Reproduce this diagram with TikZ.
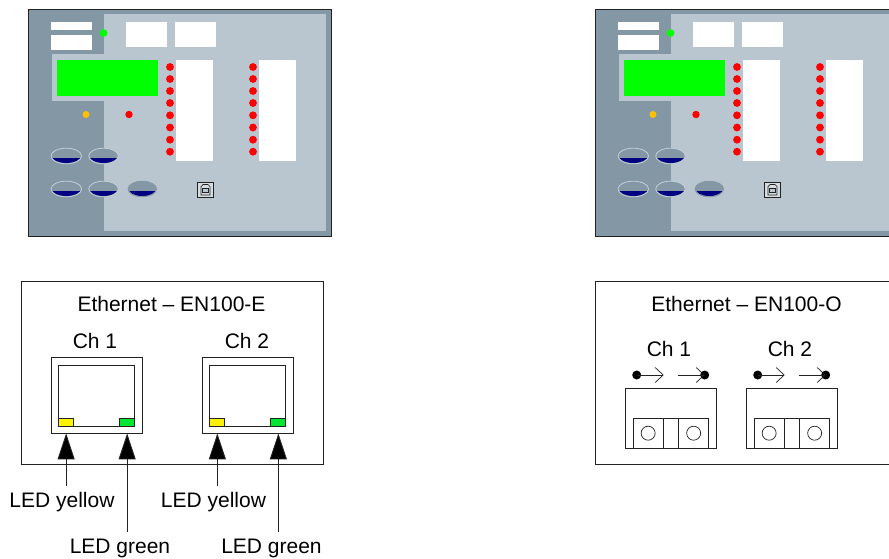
\documentclass[tikz,border=0pt]{standalone}
\usepackage{fontspec}
\setmainfont{Liberation Sans}
\usetikzlibrary{arrows.meta,calc}
\definecolor{paneldark}{HTML}{8497A5}
\definecolor{panellight}{HTML}{B9C6CF}
\definecolor{btnedge}{HTML}{C3CFD7}
\definecolor{btnblue}{HTML}{000080}
\definecolor{amber}{HTML}{FFC000}
\definecolor{ledgreen}{HTML}{00E632}
\definecolor{ink}{HTML}{222222}
\tikzset{
  whitepanel/.style={fill=white,draw=none},
  reddot/.style={fill=red,draw=none},
  boxline/.style={draw=ink,line width=0.9pt,fill=white},
  caption/.style={font=\fontsize{21}{23}\selectfont,text=black,inner sep=0pt},
  ledlabel/.style={font=\fontsize{21}{23}\selectfont,text=black,inner sep=0pt,minimum height=20pt,anchor=center},
  socketbox/.style={boxline,inner sep=0pt,anchor=north west},
  ledbox/.style={draw=ink,line width=0.9pt,inner sep=0pt,anchor=north west,minimum width=15pt,minimum height=8pt},
  ledarrow/.style={draw=ink,line width=0.9pt,-{Triangle[length=26pt,width=17pt,fill=black]}},
  openarrow/.style={draw=ink,line width=0.8pt,-{Straight Barb[length=8pt,width=15pt,line width=0.7pt]}},
  fibredot/.style={circle,fill=black,inner sep=0pt,minimum size=9pt},
  portring/.style={circle,draw=ink,line width=0.7pt,fill=white,inner sep=0pt,minimum size=14pt}
}
\newcommand{\pushbtn}[4]{%
  \fill[paneldark] (#1,#2) ellipse [x radius=#3,y radius=7.8];
  \begin{scope}
    \clip (#1-#3,#2+2) rectangle (#1+#3,#2+9);
    \fill[btnblue] (#1,#2) ellipse [x radius=#3-0.8,y radius=7];
  \end{scope}
  \draw[#4,line width=0.8pt] (#1,#2) ellipse [x radius=#3,y radius=7.8];
}
\newcommand{\frontpanel}[1]{%
  \begin{scope}[shift={(#1,0)}]
    \draw[fill=paneldark,draw=ink,line width=1pt] (28.5,9.5) rectangle (331,236);
    \fill[panellight] (104,14) rectangle (326,231);
    \fill[panellight] (52,54) rectangle (104,101);
    \fill[whitepanel] (51,22) rectangle (92,30);
    \fill[whitepanel] (51,35) rectangle (92,50);
    \fill[whitepanel] (126,22) rectangle (167,47);
    \fill[whitepanel] (175,22) rectangle (216,47);
    \fill[green] (57,60) rectangle (158,96);
    \fill[whitepanel] (176,60) rectangle (213,161);
    \fill[whitepanel] (259,60) rectangle (296,161);
    \fill[green] (103.5,33) circle (3.9);
    \foreach \yy in {67,79,91,103,115.3,127.5,139.7,151.7}{
      \fill[reddot] (170,\yy) circle (3.9);
      \fill[reddot] (253,\yy) circle (3.9);
    }
    \fill[amber] (86,114.5) circle (3.5);
    \fill[reddot] (129,114.5) circle (3.7);
    \pushbtn{66.3}{156}{15.3}{btnedge}
    \pushbtn{103.5}{156}{14.8}{btnedge}
    \pushbtn{66.3}{189}{15.3}{btnedge}
    \pushbtn{103.5}{189}{14.8}{btnedge}
    \pushbtn{142.3}{189}{14.3}{paneldark}
    \draw[fill=panellight!60!white,draw=ink,line width=0.9pt] (197.7,182.3) rectangle (213.3,197.3);
    \draw[draw=ink,line width=0.7pt] (201,195) -- (201,186.5) -- (203,184.5) -- (208,184.5) -- (210,186.5) -- (210,195) -- cycle;
    \draw[draw=ink,line width=0.7pt,fill=panellight] (202.8,188.5) rectangle (208.2,192);
  \end{scope}
}
\newcommand{\rjsocket}[2]{%
  \node[socketbox,minimum width=91pt,minimum height=75.5pt] (outer#1) at (#2,357) {};
  \node[socketbox,minimum width=76pt,minimum height=61pt] (inner#1) at ($(#2,365)+(7.5,0)$) {};
  \node[ledbox,fill=yellow] (yellow#1) at (inner#1.south west) [anchor=south west] {};
  \node[ledbox,fill=ledgreen] (green#1) at (inner#1.south east) [anchor=south east] {};
}
\newcommand{\fibreport}[3]{%
  \node[caption] (fibrecap#1) at (#2+43.8,349) {#3};
  \node[socketbox,minimum width=91pt,minimum height=60.5pt] (fibre#1) at (#2,387.5) {};
  \node[socketbox,minimum width=30pt,minimum height=30.5pt] (fibreL#1) at (#2+7.5,417.5) {};
  \node[socketbox,minimum width=15.5pt,minimum height=30.5pt] (fibreM#1) at (#2+37.5,417.5) {};
  \node[socketbox,minimum width=30pt,minimum height=30.5pt] (fibreR#1) at (#2+53,417.5) {};
  \node[portring] (ringL#1) at (fibreL#1.center) {};
  \node[portring] (ringR#1) at (fibreR#1.center) {};
  \node[fibredot] (txdot#1) at (#2+11.5,375) {};
  \coordinate (txend#1) at (#2+38.5,375);
  \draw[openarrow] (txdot#1.center) -- (txend#1);
  \node[fibredot] (rxdot#1) at (#2+79.5,375) {};
  \coordinate (rxstart#1) at (#2+52.5,375);
  \draw[openarrow] (rxstart#1) -- (rxdot#1.center);
}
\begin{document}
\begin{tikzpicture}[x=1pt,y=-1pt]
  \useasboundingbox (0,0) rectangle (889,558);
  \clip (0,0) rectangle (889,558);
  \frontpanel{0}
  \frontpanel{567}

  % EN100-E
  \node[boxline,inner sep=0pt,anchor=north west,minimum width=302pt,minimum height=183pt] (boxE) at (20.7,281) {};
  \node[caption] (titleE) at (171.5,304) {Ethernet -- EN100-E};
  \node[caption] (capE1) at (95,341) {Ch 1};
  \node[caption] (capE2) at (247,341) {Ch 2};
  \rjsocket{1}{50.7}
  \rjsocket{2}{201.9}
  \node[ledlabel] (ly1) at (62,502) {LED yellow};
  \node[ledlabel] (ly2) at (213.5,502) {LED yellow};
  \node[ledlabel] (lg1) at (120,548) {LED green};
  \node[ledlabel] (lg2) at (271.5,548) {LED green};
  \draw[ledarrow] (ly1.north -| yellow1.south) ++(0,-6) -- (yellow1.south |- outer1.south);
  \draw[ledarrow] (ly2.north -| yellow2.south) ++(0,-6) -- (yellow2.south |- outer2.south);
  \draw[ledarrow] (lg1.north -| green1.south) ++(0,-6) -- (green1.south |- outer1.south);
  \draw[ledarrow] (lg2.north -| green2.south) ++(0,-6) -- (green2.south |- outer2.south);

  % EN100-O
  \node[boxline,inner sep=0pt,anchor=north west,minimum width=302pt,minimum height=182.5pt] (boxO) at (595.2,281) {};
  \node[caption] (titleO) at (746.5,304) {Ethernet -- EN100-O};
  \fibreport{1}{625.2}{Ch 1}
  \fibreport{2}{746.2}{Ch 2}
\end{tikzpicture}
\end{document}
